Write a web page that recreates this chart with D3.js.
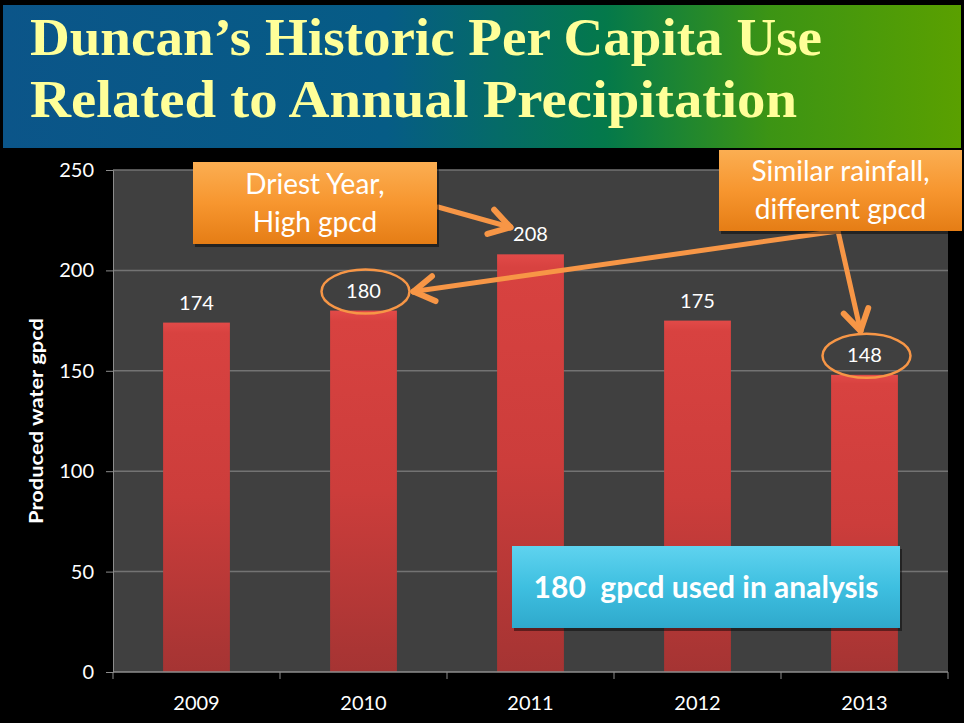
<!DOCTYPE html>
<html>
<head>
<meta charset="utf-8">
<script src="https://cdn.jsdelivr.net/npm/d3@7"></script>
<style>
    body { margin: 0; background: #000; }
    svg { display: block; }
</style>
</head>
<body>
<script>
(function() {

    const width = 964;
    const height = 723;

    // chart data
    const years = ["2009", "2010", "2011", "2012", "2013"];
    const gpcd = [174, 180, 208, 175, 148];
    const yTicks = [0, 50, 100, 150, 200, 250];
    const titleLines = ["Duncan\u2019s Historic Per Capita Use", "Related to Annual Precipitation"];
    const circledYears = ["2010", "2013"];
    const driestYear = "2011";
    const usedValue = 180;

    const margin = {top: 170, right: 16, bottom: 51, left: 113};

    let svg = d3.select("body").append("svg")
        .attr("width", width)
        .attr("height", height);

    let defs = svg.append("defs");

    function gradient(id, stops, horizontal) {
        let g = defs.append("linearGradient")
            .attr("id", id)
            .attr("x1", 0).attr("y1", 0)
            .attr("x2", horizontal ? 1 : 0)
            .attr("y2", horizontal ? 0 : 1);
        stops.forEach(s => {
            g.append("stop").attr("offset", s[0]).attr("stop-color", s[1]);
        });
    }

    gradient("titleGrad", [[0, "#0b5589"], [0.4, "#065c86"], [0.63, "#04794a"], [0.8, "#3c9414"], [1, "#5aa000"]], true);
    gradient("barGrad", [[0, "#e24a48"], [0.03, "#d84240"], [0.5, "#cc3d3b"], [1, "#a53433"]], false);
    gradient("orangeGrad", [[0, "#fbae52"], [0.5, "#f7962f"], [1, "#e57d15"]], false);
    gradient("cyanGrad", [[0, "#5fd3ef"], [0.5, "#3ebfe0"], [1, "#2fa9cc"]], false);

    // title banner
    svg.append("rect")
        .attr("x", 3).attr("y", 5)
        .attr("width", 958).attr("height", 143)
        .style("fill", "url(#titleGrad)");

    let titleWidths = [792, 767];
    svg.selectAll("text.title")
        .data(titleLines)
        .enter()
        .append("text")
        .attr("class", "title")
        .attr("x", 30)
        .attr("y", (d, i) => 55 + i * 62)
        .attr("textLength", (d, i) => titleWidths[i])
        .attr("lengthAdjust", "spacingAndGlyphs")
        .style("font-family", "'Liberation Serif', serif")
        .style("font-weight", "bold")
        .style("font-size", "52px")
        .style("fill", "#ffff99")
        .text(d => d);

    let innerW = width - margin.left - margin.right;
    let innerH = height - margin.top - margin.bottom;

    let x = d3.scaleBand()
        .domain(years)
        .range([margin.left, margin.left + innerW])
        .paddingInner(0.6)
        .paddingOuter(0.3);

    let y = d3.scaleLinear()
        .domain([0, 250])
        .range([margin.top + innerH, margin.top]);

    // plot area
    svg.append("rect")
        .attr("x", margin.left).attr("y", margin.top)
        .attr("width", innerW).attr("height", innerH)
        .style("fill", "#404040");

    // gridlines
    svg.selectAll("line.grid")
        .data(yTicks.slice(1))
        .enter()
        .append("line")
        .attr("class", "grid")
        .attr("x1", margin.left).attr("x2", margin.left + innerW)
        .attr("y1", d => y(d)).attr("y2", d => y(d))
        .style("stroke", "#737373")
        .style("stroke-width", 1.5);

    // bars
    svg.selectAll("rect.bar")
        .data(gpcd)
        .enter()
        .append("rect")
        .attr("class", "bar")
        .attr("x", (d, i) => x(years[i]))
        .attr("y", d => y(d))
        .attr("width", x.bandwidth())
        .attr("height", d => y(0) - y(d))
        .style("fill", "url(#barGrad)");

    // value labels
    svg.selectAll("text.value")
        .data(gpcd)
        .enter()
        .append("text")
        .attr("class", "value")
        .attr("x", (d, i) => x(years[i]) + x.bandwidth() / 2)
        .attr("y", d => y(d) - 13)
        .attr("text-anchor", "middle")
        .style("font-family", "Lato, sans-serif")
        .style("font-size", "20px")
        .style("fill", "#fff")
        .text(d => d);

    // y axis
    let yAxis = svg.append("g")
        .attr("transform", "translate(" + margin.left + ",0)")
        .call(d3.axisLeft(y).tickValues(yTicks).tickSize(7).tickPadding(12));
    yAxis.select(".domain").style("stroke", "#8c8c8c");
    yAxis.selectAll("line").style("stroke", "#8c8c8c");
    yAxis.selectAll("text")
        .style("font-family", "Lato, sans-serif")
        .style("font-size", "20px")
        .style("fill", "#fff");

    // x axis, ticks between categories
    let xBounds = d3.scaleLinear().domain([0, years.length]).range([margin.left, margin.left + innerW]);
    let xAxis = svg.append("g");
    xAxis.append("line")
        .attr("x1", margin.left).attr("x2", margin.left + innerW)
        .attr("y1", y(0)).attr("y2", y(0))
        .style("stroke", "#8c8c8c").style("stroke-width", 1.5);
    xAxis.selectAll("line.tick")
        .data(d3.range(years.length + 1))
        .enter()
        .append("line")
        .attr("class", "tick")
        .attr("x1", d => xBounds(d)).attr("x2", d => xBounds(d))
        .attr("y1", y(0)).attr("y2", y(0) + 7)
        .style("stroke", "#8c8c8c");
    xAxis.selectAll("text")
        .data(years)
        .enter()
        .append("text")
        .attr("x", d => x(d) + x.bandwidth() / 2)
        .attr("y", y(0) + 38)
        .attr("text-anchor", "middle")
        .style("font-family", "Lato, sans-serif")
        .style("font-size", "20px")
        .style("fill", "#fff")
        .text(d => d);

    // y axis title
    svg.append("text")
        .attr("transform", "translate(43," + (margin.top + innerH / 2) + ") rotate(-90)")
        .attr("text-anchor", "middle")
        .attr("textLength", 206)
        .attr("lengthAdjust", "spacingAndGlyphs")
        .style("font-family", "Lato, sans-serif")
        .style("font-weight", "bold")
        .style("font-size", "19px")
        .style("fill", "#fff")
        .text("Produced water gpcd");

    // annotations
    const orange = "#f79646";
    function labelPos(year) {
        let i = years.indexOf(year);
        return [x(year) + x.bandwidth() / 2, y(gpcd[i]) - 19];
    }

    // ellipses round circled values
    svg.selectAll("ellipse.mark")
        .data(circledYears)
        .enter()
        .append("ellipse")
        .attr("class", "mark")
        .attr("cx", d => labelPos(d)[0] + 2)
        .attr("cy", d => labelPos(d)[1])
        .attr("rx", 44)
        .attr("ry", 22)
        .style("fill", "none")
        .style("stroke", orange)
        .style("stroke-width", 2.5);

    function arrow(x1, y1, x2, y2) {
        let a = Math.atan2(y2 - y1, x2 - x1);
        let len = 24, spread = 0.55;
        svg.append("line")
            .attr("x1", x1).attr("y1", y1).attr("x2", x2).attr("y2", y2)
            .style("stroke", orange).style("stroke-width", 5)
            .style("stroke-linecap", "round");
        [-spread, spread].forEach(s => {
            svg.append("line")
                .attr("x1", x2).attr("y1", y2)
                .attr("x2", x2 - len * Math.cos(a + s))
                .attr("y2", y2 - len * Math.sin(a + s))
                .style("stroke", orange).style("stroke-width", 6)
                .style("stroke-linecap", "round");
        });
    }

    let p2011 = labelPos(driestYear);
    let p2010 = labelPos(circledYears[0]);
    let p2013 = labelPos(circledYears[1]);
    arrow(438, 207, p2011[0] - 20, p2011[1] - 8);
    arrow(838, 231, p2010[0] + 50, p2010[1]);
    arrow(838, 231, p2013[0] - 4, p2013[1] - 25);

    function box(x0, y0, w, h, fill, lines, size, weight, lh) {
        svg.append("rect")
            .attr("x", x0 + 2).attr("y", y0 + 3)
            .attr("width", w).attr("height", h)
            .style("fill", "rgba(0,0,0,0.45)");
        svg.append("rect")
            .attr("x", x0).attr("y", y0)
            .attr("width", w).attr("height", h)
            .style("fill", fill);
        lines.forEach((t, i) => {
            svg.append("text")
                .attr("x", x0 + w / 2)
                .attr("y", y0 + h / 2 + (i - (lines.length - 1) / 2) * lh)
                .attr("dy", "0.35em")
                .attr("text-anchor", "middle")
                .style("white-space", "pre")
                .style("font-family", "Lato, sans-serif")
                .style("font-weight", weight)
                .style("font-size", size + "px")
                .style("fill", "#fff")
                .text(t);
        });
    }

    box(193, 162, 244, 82, "url(#orangeGrad)", ["Driest Year,", "High gpcd"], 28, "normal", 38);
    box(719, 150, 243, 81, "url(#orangeGrad)", ["Similar rainfall,", "different gpcd"], 28, "normal", 38);
    box(512, 546, 388, 82, "url(#cyanGrad)", [usedValue + "  gpcd used in analysis"], 30, "bold", 0);

})();
</script>
</body>
</html>
